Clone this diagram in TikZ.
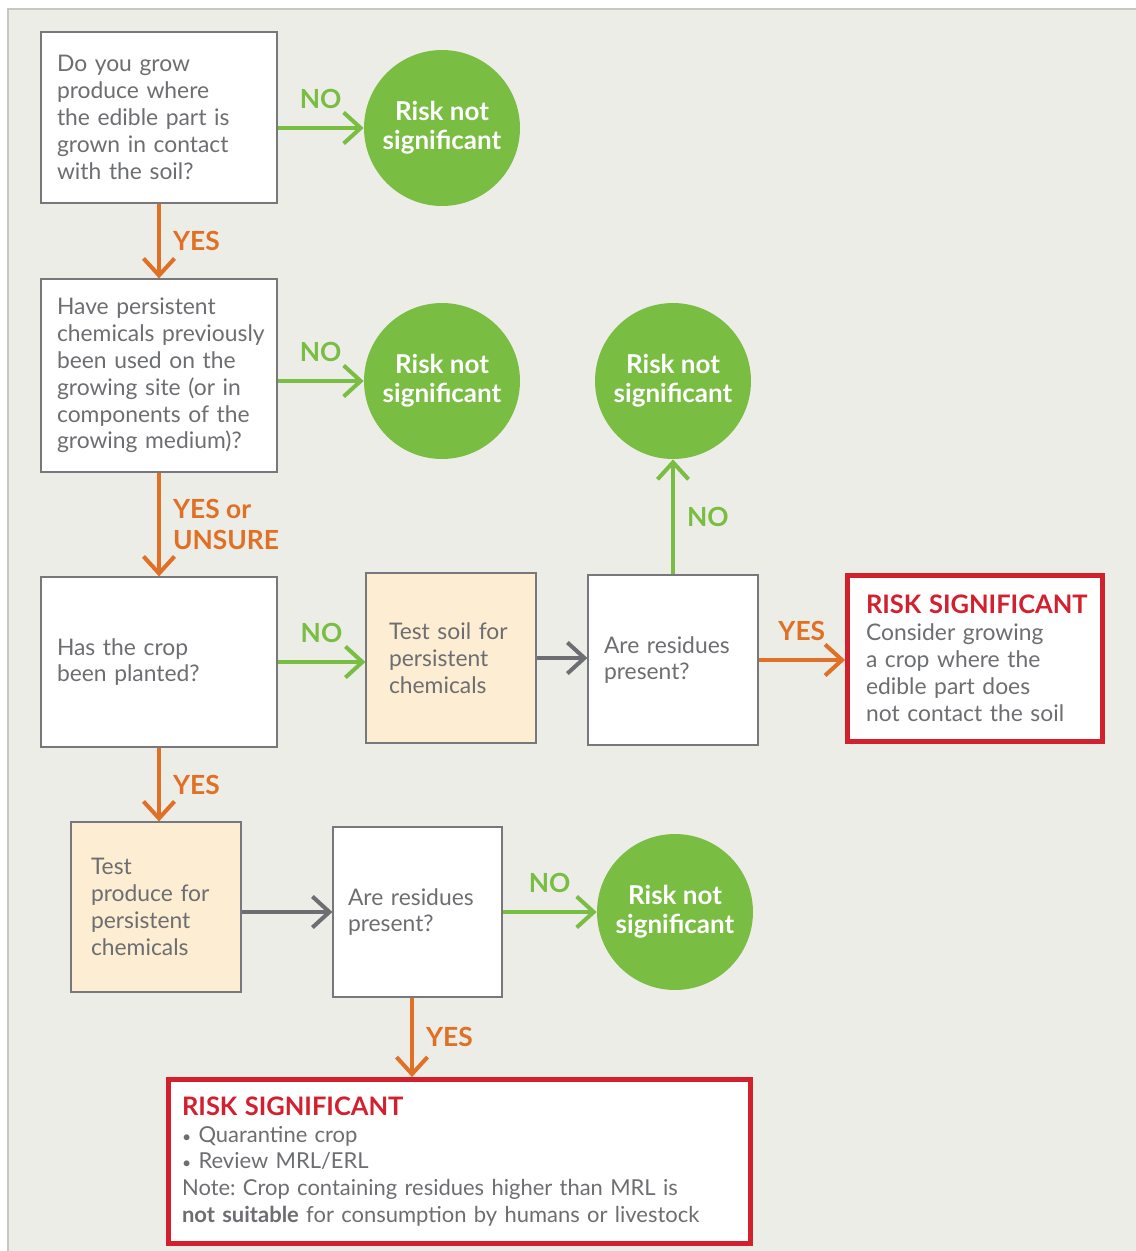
\documentclass[tikz,border=0pt]{standalone}
\usepackage{fontspec}
\setmainfont{Lato}
\usetikzlibrary{arrows.meta}
\frenchspacing

\definecolor{panel}{HTML}{EDEDE8}
\definecolor{panelline}{HTML}{C6C6C4}
\definecolor{boxline}{HTML}{77787B}
\definecolor{ink}{HTML}{6D6E71}
\definecolor{leaf}{HTML}{7ABD43}
\definecolor{rust}{HTML}{E07025}
\definecolor{alarm}{HTML}{D2202F}
\definecolor{cream}{HTML}{FDEDD2}

\newcommand{\dotitem}{{\fontsize{9}{9}\selectfont•}\ }
\newcommand{\risktitle}{\mbox{\color{alarm}\fontsize{14.5}{15.4}\selectfont\bfseries RISK SIGNIFICANT}}

\begin{document}
\begin{tikzpicture}[x=0.02cm, y=-0.02cm,
  question/.style={draw=boxline, line width=0.7pt, fill=white, text=ink, align=left,
    inner xsep=0.32cm, minimum height=3.4cm, font=\fontsize{13}{15.3}\selectfont},
  testbox/.style={question, fill=cream},
  okdisc/.style={circle, fill=leaf, text=white, align=center, minimum size=3.12cm,
    inner sep=0pt, font=\fontsize{14.8}{16.6}\selectfont\bfseries},
  riskbox/.style={draw=alarm, line width=2.8pt, fill=white, text=ink, align=left,
    inner xsep=0.37cm, minimum height=3.32cm, font=\fontsize{13}{15.4}\selectfont},
  flow/.style={line width=2.3pt, -{Straight Barb[length=0.34cm, width=0.62cm]}},
  noflow/.style={flow, leaf},
  yesflow/.style={flow, rust},
  nextflow/.style={flow, ink},
  flowtag/.style={font=\fontsize{15}{17.6}\selectfont\bfseries, inner sep=0pt, align=left}
]

  % panel
  \useasboundingbox (0,0) rectangle (1136,1251);
  \fill[panel] (8,9) rectangle (1136,1251);
  \draw[panelline, line width=0.8pt] (1136,9) to (8,9) to (8,1251);

  % questions
  \node[question, text width=4.08cm, minimum height=3.42cm] (soilq) at (159,117.5)
    {Do you grow\\produce where\\the edible part is\\grown in contact\\with the soil?};
  \node[question, text width=4.08cm, minimum height=3.86cm] (chemq) at (159,375.5)
    {Have persistent\\\mbox{chemicals previously}\\been used on the\\growing site (or in\\components of the\\growing medium)?};
  \node[question, text width=4.08cm] (plantq) at (159,662)
    {Has the crop\\been planted?};
  \node[question, text width=2.76cm] (resa) at (673,660)
    {Are residues\\present?};
  \node[question, text width=2.78cm, inner xsep=0.3cm] (resb) at (417.5,912)
    {Are residues\\present?};

  % tests
  \node[testbox, text width=2.48cm, inner xsep=0.46cm] (testsoil) at (451,658)
    {Test soil for\\persistent\\chemicals};
  \node[testbox, text width=2.6cm, inner xsep=0.4cm] (testcrop) at (156,907)
    {Test\\produce for\\persistent\\chemicals};

  % outcomes
  \node[okdisc] (oka) at (442,128) {Risk not\\significant};
  \node[okdisc] (okb) at (442,381) {Risk not\\significant};
  \node[okdisc] (okc) at (673,381) {Risk not\\significant};
  \node[okdisc] (okd) at (675,912) {Risk not\\significant};
  \node[riskbox, text width=4.36cm] (riska) at (975,658.5)
    {\risktitle\\Consider growing\\a crop where the\\edible part does\\\mbox{not contact the soil}};
  \node[riskbox, text width=11.1cm, inner xsep=0.27cm, minimum height=3.28cm,
    font=\fontsize{12.5}{15.3}\selectfont] (riskb) at (459.5,1161.5)
    {\risktitle\\\dotitem Quarantine crop\\\dotitem Review MRL/ERL\\Note: Crop containing residues higher than MRL is\\\textbf{not suitable} for consumption by humans or livestock};

  % yes branches
  \draw[yesflow] (soilq) to
    node[flowtag, right=0.24cm] {YES}
    (chemq);
  \draw[yesflow] (chemq) to
    node[flowtag, right=0.24cm] {YES or\\UNSURE}
    (plantq);
  \draw[yesflow] (plantq.south) to
    node[flowtag, right=0.24cm] {YES}
    (plantq.south |- testcrop.north);
  \draw[yesflow] (resa.east) to
    node[flowtag, above=0.34cm] {YES}
    (resa.east -| riska.west);
  \draw[yesflow] ([xshift=-0.11cm]resb.south) to
    node[flowtag, right=0.24cm] {YES}
    ([xshift=-0.11cm]resb.south |- riskb.north);

  % no branches
  \draw[noflow] (soilq.east |- oka) to
    node[flowtag, above=0.34cm] {NO}
    (oka.west);
  \draw[noflow] (chemq.east |- okb) to
    node[flowtag, above=0.34cm] {NO}
    (okb.west);
  \draw[noflow] (plantq.east) to
    node[flowtag, above=0.34cm] {NO}
    (plantq.east -| testsoil.west);
  \draw[noflow] (resa) to
    node[flowtag, right=0.24cm] {NO}
    (okc);
  \draw[noflow] (resb) to
    node[flowtag, above=0.34cm] {NO}
    (okd);

  % next steps
  \draw[nextflow] (testsoil.east) to (testsoil.east -| resa.west);
  \draw[nextflow] (testcrop.east |- resb) to (resb.west);

\end{tikzpicture}
\end{document}
